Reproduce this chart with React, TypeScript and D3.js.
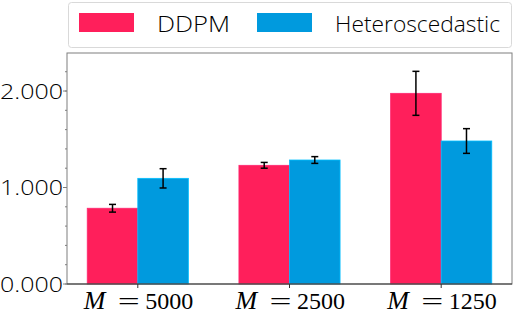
import * as d3 from 'd3';
import { useEffect, useRef } from 'react';

const groups = ['5000', '2500', '1250'];
const seriesNames = ['DDPM', 'Heteroscedastic'];
const ddpmValues = [0.785, 1.23, 1.976];
const ddpmErrors = [0.04, 0.03, 0.228];
const heteroValues = [1.095, 1.285, 1.482];
const heteroErrors = [0.1, 0.035, 0.128];
const colors = ['#FF1F5B', '#009ADE'];
const yTicks = [0, 1, 2];

export default function App() {
  const svgRef = useRef<SVGSVGElement>(null);

  useEffect(() => {
    if (!svgRef.current) return;
    const width = 515;
    const height = 319;
    const margin = { left: 67, right: 3, top: 53, bottom: 35 };
    const sansFont = '"Open Sans", Lato, "DejaVu Sans", sans-serif';
    const serifFont = '"Liberation Serif", "DejaVu Serif", serif';

    const svg = d3.select(svgRef.current)
      .attr('width', width)
      .attr('height', height);
    svg.selectAll('*').remove();

    const x = d3.scaleLinear()
      .domain([-0.4667, groups.length - 1 + 0.4667])
      .range([margin.left, width - margin.right]);
    const y = d3.scaleLinear()
      .domain([0, 2.394])
      .range([height - margin.bottom, margin.top]);
    const barW = x(1 / 3) - x(0);

    const series = [
      { values: ddpmValues, errors: ddpmErrors },
      { values: heteroValues, errors: heteroErrors },
    ];

    // bars
    series.forEach((s, si) => {
      const offset = si === 0 ? -1 / 3 : 0;
      svg.append('g')
        .selectAll('rect')
        .data(s.values)
        .enter()
        .append('rect')
        .attr('x', (_, i) => x(i + offset))
        .attr('y', (d) => y(d))
        .attr('width', barW)
        .attr('height', (d) => y(0) - y(d))
        .attr('fill', colors[si])
        .attr('stroke', d3.color(colors[si])!.brighter(0.6).toString())
        .attr('stroke-width', 0.8);
    });

    // error bars
    series.forEach((s, si) => {
      const offset = si === 0 ? -1 / 6 : 1 / 6;
      const g = svg.append('g').attr('stroke', '#000').attr('stroke-width', 1.5);
      s.values.forEach((v, i) => {
        const cx = x(i + offset);
        const lo = y(v - s.errors[i]);
        const hi = y(v + s.errors[i]);
        g.append('line').attr('x1', cx).attr('x2', cx).attr('y1', lo).attr('y2', hi);
        g.append('line').attr('x1', cx - 3.5).attr('x2', cx + 3.5).attr('y1', lo).attr('y2', lo);
        g.append('line').attr('x1', cx - 3.5).attr('x2', cx + 3.5).attr('y1', hi).attr('y2', hi);
      });
    });

    // frame
    const axisColor = '#7f7f7f';
    svg.append('rect')
      .attr('x', margin.left)
      .attr('y', margin.top)
      .attr('width', width - margin.right - margin.left)
      .attr('height', y(0) - margin.top)
      .attr('fill', 'none')
      .attr('stroke', axisColor)
      .attr('stroke-width', 1);
    svg.append('line')
      .attr('x1', margin.left).attr('x2', width - margin.right)
      .attr('y1', y(0)).attr('y2', y(0))
      .attr('stroke', '#333').attr('stroke-width', 1.2);

    // y ticks
    const minor = d3.range(0, 2.39, 0.2);
    svg.append('g').selectAll('line')
      .data(minor)
      .enter()
      .append('line')
      .attr('x1', margin.left - 2).attr('x2', margin.left)
      .attr('y1', (d) => y(d)).attr('y2', (d) => y(d))
      .attr('stroke', axisColor);
    svg.append('g').selectAll('line')
      .data(yTicks)
      .enter()
      .append('line')
      .attr('x1', margin.left - 4).attr('x2', margin.left)
      .attr('y1', (d) => y(d)).attr('y2', (d) => y(d))
      .attr('stroke', axisColor);
    svg.append('g').selectAll('text')
      .data(yTicks)
      .enter()
      .append('text')
      .attr('x', 63)
      .attr('y', (d) => y(d) + 7.5)
      .attr('text-anchor', 'end')
      .attr('font-family', sansFont)
      .attr('font-weight', 300)
      .attr('font-size', 20)
      .attr('textLength', 63)
      .attr('lengthAdjust', 'spacingAndGlyphs')
      .text((d) => d3.format('.3f')(d));

    // x ticks
    svg.append('g').selectAll('line')
      .data(groups)
      .enter()
      .append('line')
      .attr('x1', (_, i) => x(i)).attr('x2', (_, i) => x(i))
      .attr('y1', y(0)).attr('y2', y(0) + 4)
      .attr('stroke', '#333');
    const xl = svg.append('g')
      .selectAll('g')
      .data(groups)
      .enter()
      .append('g')
      .attr('transform', (_, i) => `translate(${x(i)},309)`);
    xl.append('text')
      .attr('x', -54)
      .attr('font-family', serifFont)
      .attr('font-size', 26)
      .attr('font-style', 'italic')
      .attr('font-weight', 'normal')
      .text('M');
    xl.append('text')
      .attr('x', -20)
      .attr('font-family', serifFont)
      .attr('font-size', 24)
      .attr('textLength', 22)
      .attr('lengthAdjust', 'spacingAndGlyphs')
      .text('=');
    xl.append('text')
      .attr('x', 7.5)
      .attr('font-family', serifFont)
      .attr('font-size', 24)
      .text((d) => d);

    // legend
    const leg = svg.append('g');
    leg.append('rect')
      .attr('x', 68.5).attr('y', 2.5)
      .attr('width', 443).attr('height', 45)
      .attr('rx', 3)
      .attr('fill', '#fff')
      .attr('stroke', '#d9d9d9');
    const legX = [79, 257];
    const legTextX = [157, 335];
    const legW = [73, 165];
    seriesNames.forEach((name, i) => {
      leg.append('rect')
        .attr('x', legX[i]).attr('y', 13)
        .attr('width', 55).attr('height', 19)
        .attr('fill', colors[i]);
      leg.append('text')
        .attr('x', legTextX[i]).attr('y', 32)
        .attr('font-family', sansFont)
        .attr('font-weight', 300)
        .attr('font-size', 22)
        .attr('textLength', legW[i])
        .attr('lengthAdjust', 'spacingAndGlyphs')
        .text(name);
    });
  }, []);

  return <svg ref={svgRef} style={{ position: 'absolute', left: 0, top: 0, background: '#fff' }} />;
}
